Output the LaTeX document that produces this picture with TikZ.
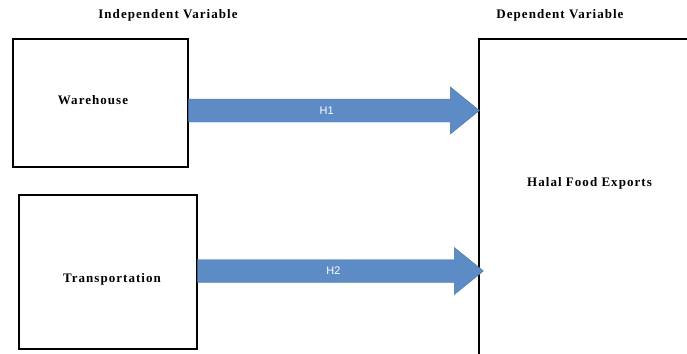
\documentclass[tikz,border=0pt]{standalone}
\usepackage{fontspec}
\setmainfont{Liberation Serif}
\newfontfamily\hypfont{Liberation Sans}
\usepackage{tikz}
\usetikzlibrary{calc}
\definecolor{arrowblue}{RGB}{92,139,197}
\tikzstyle{var} = [rectangle, draw=black, line width=1.2pt, fill=white, inner sep=0pt]
\tikzstyle{title} = [font=\fontsize{13}{15}\selectfont\bfseries\addfontfeatures{LetterSpace=8}]
\tikzstyle{hyp} = [text=white, font=\hypfont\fontsize{11}{13}\selectfont]
\tikzstyle{bigarrow} = [fill=arrowblue, draw=arrowblue!85!black, line width=0.4pt]
\newcommand{\hyparrow}[3]{%
  \filldraw[bigarrow] ($(#1)+(0,-11.5)$) -- ($(#2)+(-29,-11.5)$) -- ($(#2)+(-29,-23.5)$) -- (#2)
    -- ($(#2)+(-29,23.5)$) -- ($(#2)+(-29,11.5)$) -- ($(#1)+(0,11.5)$) -- cycle;
  \node[hyp] at ($(#1)!0.475!(#2)$) {#3};}

\begin{document}
\begin{tikzpicture}[x=1pt, y=-1pt]
    \useasboundingbox (0,0) rectangle (687,353);
    \clip (0,0) rectangle (687,353);
    \node (indep) [title] at (168,15) {Independent Variable};
    \node (dep) [title] at (560,15) {Dependent Variable};

    \node (wh) [var, minimum width=175pt, minimum height=128pt, label={[title, xshift=-7.5pt, yshift=3pt]center:Warehouse}] at (100.5,103) {};
    \node (tr) [var, minimum width=178pt, minimum height=154pt, label={[title, xshift=4pt, yshift=-7pt]center:Transportation}] at (108,272) {};
    \node (hfe) [var, minimum width=221pt, minimum height=326pt, label={[title, yshift=19pt]center:Halal Food Exports}] at (589.5,202) {};

    \coordinate (h1s) at ([yshift=-7.5pt]wh.east);
    \coordinate (h1e) at ([xshift=1pt]hfe.west |- h1s);
    \coordinate (h2s) at ([yshift=1pt]tr.east);
    \coordinate (h2e) at ([xshift=5pt]hfe.west |- h2s);

    \hyparrow{h1s}{h1e}{H1}
    \hyparrow{h2s}{h2e}{H2}
\end{tikzpicture}
\end{document}
